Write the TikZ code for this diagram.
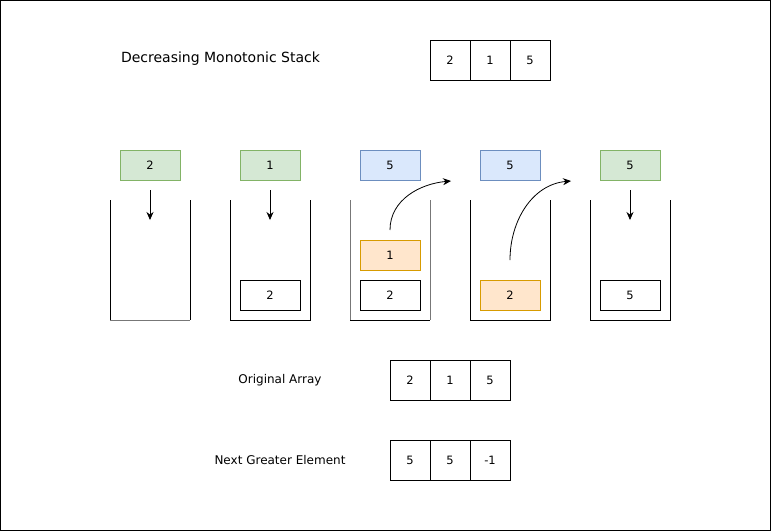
\documentclass[tikz,border=0pt]{standalone}
\usepackage{fontspec}
\setmainfont{DejaVu Sans}
\usetikzlibrary{arrows.meta}
\definecolor{gfill}{HTML}{D5E8D4}\definecolor{gdraw}{HTML}{82B366}
\definecolor{bfill}{HTML}{DAE8FC}\definecolor{bdraw}{HTML}{6C8EBF}
\definecolor{ofill}{HTML}{FFE6CC}\definecolor{odraw}{HTML}{D79B00}
\definecolor{sgray}{HTML}{777777}
\begin{document}
\begin{tikzpicture}[x=1pt,y=-1pt,
  cell/.style={draw=black,minimum width=40pt,minimum height=40pt,inner sep=0pt,font=\fontsize{11.5}{13}\selectfont},
  item/.style={draw=black,minimum width=60pt,minimum height=30pt,inner sep=0pt,font=\fontsize{11.5}{13}\selectfont},
  greenbox/.style={item,fill=gfill,draw=gdraw},
  bluebox/.style={item,fill=bfill,draw=bdraw},
  orangebox/.style={item,fill=ofill,draw=odraw},
  lbl/.style={font=\fontsize{12}{14}\selectfont,inner sep=0pt},
  arr/.style={-{Stealth[length=8pt,width=7pt]},line width=0.9pt},
  stk/.style={line width=1pt}]
\draw[black,line width=1pt] (0.5,0.5) rectangle (770.5,530.5);
\node[lbl,font=\fontsize{14}{16}\selectfont] (title) at (220.5,59) {Decreasing Monotonic Stack};
\node[cell] (t1) at (450,60) {2};
\node[cell] (t2) at (490,60) {1};
\node[cell] (t3) at (530,60) {5};
% inputs
\node[greenbox] (in1) at (150,165) {2};
\node[greenbox] (in2) at (270,165) {1};
\node[bluebox] (in3) at (390,165) {5};
\node[bluebox] (in4) at (510,165) {5};
\node[greenbox] (in5) at (630,165) {5};
% stacks
\draw[stk] (110,200) -- (110,320); \draw[stk] (190,200) -- (190,320);
\draw[stk,sgray] (110,320) -- (190,320);
\draw[stk] (230,200) -- (230,320) -- (310,320) -- (310,200);
\draw[stk,sgray] (350,200) -- (350,320); \draw[stk,sgray] (430,200) -- (430,320);
\draw[stk] (350,320) -- (430,320);
\draw[stk] (470,200) -- (470,320) -- (550,320) -- (550,200);
\draw[stk] (590,200) -- (590,320) -- (670,320) -- (670,200);
% stack items
\node[item] (s2a) at (270,295) {2};
\node[item] (s3a) at (390,295) {2};
\node[orangebox] (s3b) at (390,255) {1};
\node[orangebox] (s4a) at (510,295) {2};
\node[item] (s5a) at (630,295) {5};
% arrows
\coordinate (d1s) at (150,190); \coordinate (d1e) at (150,220);
\coordinate (d2s) at (270,190); \coordinate (d2e) at (270,220);
\coordinate (d5s) at (630,190); \coordinate (d5e) at (630,220);
\draw[arr] (d1s) -- (d1e);
\draw[arr] (d2s) -- (d2e);
\draw[arr] (d5s) -- (d5e);
\coordinate (c3s) at (390,230); \coordinate (c3e) at (451,181);
\coordinate (c4s) at (510,260); \coordinate (c4e) at (571,181);
\draw[arr,line width=0.8pt] (c3s) to[out=90,in=185] (c3e);
\draw[arr,line width=0.8pt] (c4s) to[out=90,in=185] (c4e);
% bottom arrays
\node[lbl] (orig) at (280,380) {Original Array};
\node[cell] (o1) at (410,380) {2};
\node[cell] (o2) at (450,380) {1};
\node[cell] (o3) at (490,380) {5};
\node[lbl] (nge) at (280,460) {Next Greater Element};
\node[cell] (n1) at (410,460) {5};
\node[cell] (n2) at (450,460) {5};
\node[cell] (n3) at (490,460) {-1};
\end{tikzpicture}
\end{document}
